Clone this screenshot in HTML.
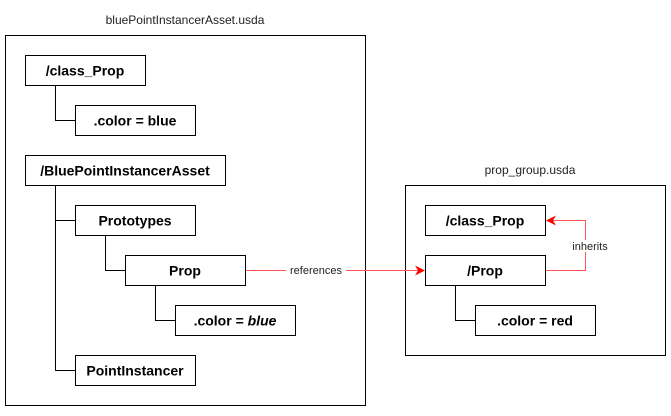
<!DOCTYPE html>
<html><head><style>
html,body{margin:0;padding:0;background:#fff;}
svg text{font-family:"Liberation Sans",Arial,sans-serif;}
</style></head><body>
<svg width="671" height="411" viewBox="0 0 671 411" xmlns="http://www.w3.org/2000/svg">
<rect width="671" height="411" fill="#fff"/>
<text x="185" y="24" font-size="12" text-anchor="middle" fill="#222">bluePointInstancerAsset.usda</text>
<rect x="5.5" y="35.5" width="360" height="370" fill="none" stroke="#000"/>
<text x="530" y="174" font-size="12" text-anchor="middle" fill="#222">prop_group.usda</text>
<rect x="405.5" y="185.5" width="260" height="170" fill="none" stroke="#000"/>
<g fill="none" stroke="#000" stroke-width="1">
<path d="M55.5 85V120.5H75"/>
<path d="M55.5 185V370.5H75M55 220.5H75"/>
<path d="M105.5 235V270.5H125"/>
<path d="M155.5 285V320.5H175"/>
<path d="M455.5 285V320.5H475"/>
</g>
<g fill="#fff" stroke="#000" stroke-width="1">
<rect x="25.5" y="55.5" width="120" height="30"/>
<rect x="75.5" y="105.5" width="120" height="30"/>
<rect x="25.5" y="155.5" width="200" height="30"/>
<rect x="75.5" y="205.5" width="120" height="30"/>
<rect x="125.5" y="255.5" width="120" height="30"/>
<rect x="175.5" y="305.5" width="120" height="30"/>
<rect x="75.5" y="355.5" width="120" height="30"/>
<rect x="425.5" y="205.5" width="120" height="30"/>
<rect x="425.5" y="255.5" width="120" height="30"/>
<rect x="475.5" y="305.5" width="120" height="30"/>
</g>
<g font-size="14" font-weight="bold" text-anchor="middle" fill="#000">
<text x="85" y="75.5">/class_Prop</text>
<text x="135" y="125.5">.color = blue</text>
<text x="125" y="175.5">/BluePointInstancerAsset</text>
<text x="135" y="225.5">Prototypes</text>
<text x="185" y="275.5">Prop</text>
<text x="235" y="325.5">.color = <tspan font-style="italic">blue</tspan></text>
<text x="135" y="375.5">PointInstancer</text>
<text x="485" y="225.5">/class_Prop</text>
<text x="485" y="275.5">/Prop</text>
<text x="535" y="325.5">.color = red</text>
</g>
<g fill="none" stroke="#ff5555" stroke-width="1">
<path d="M246 270.5H286M346 270.5H418"/>
<path d="M546 270.5H585.5V252M585.5 240V220.5H553"/>
</g>
<path d="M425 270.5L415 265.5L418 270.5L415 275.5Z" fill="#ff0000"/>
<path d="M546 220.5L556 215.5L553 220.5L556 225.5Z" fill="#ff0000"/>
<g font-size="11" text-anchor="middle" fill="#222">
<text x="316" y="274">references</text>
<text x="590" y="250">inherits</text>
</g>
</svg>
</body></html>
